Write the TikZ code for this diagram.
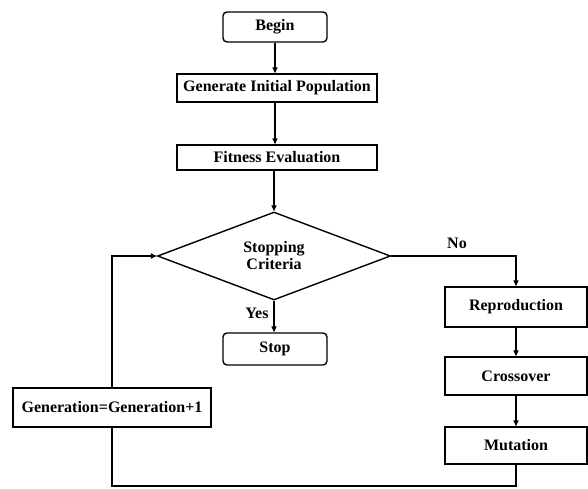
\documentclass[tikz,border=0pt]{standalone}
\usepackage{fontspec}
\setmainfont{Liberation Serif}
\usetikzlibrary{shapes.geometric,arrows.meta}
\begin{document}
\begin{tikzpicture}[x=1pt,y=-1pt,
  every node/.style={font=\fontsize{16}{18}\selectfont\bfseries, inner sep=0pt},
  box/.style={draw, line width=1.4pt},
  rbox/.style={box, rounded corners=4pt},
  flow/.style={line width=1.4pt, -{Triangle[length=6pt,width=5pt]}},
  plain/.style={line width=1.4pt}]
\useasboundingbox (0,0) rectangle (588,488);
\node[rbox, minimum width=104pt, minimum height=30pt] (begin) at (275,27) {Begin};
\node[box, minimum width=200pt, minimum height=28pt] (init) at (277,88) {Generate Initial Population};
\node[box, minimum width=200pt, minimum height=25pt] (fit) at (277,157.5) {Fitness Evaluation};
\node[box, diamond, aspect=2.65, minimum width=233pt, minimum height=88pt, align=center] (crit) at (274,256) {Stopping\\[-1pt]Criteria};
\node[rbox, minimum width=104pt, minimum height=32pt] (stop) at (275,349) {Stop};
\node[box, minimum width=198pt, minimum height=39pt] (gen) at (112,407.5) {Generation=Generation+1};
\node[box, minimum width=142pt, minimum height=40pt] (rep) at (516,307) {Reproduction};
\node[box, minimum width=142pt, minimum height=38pt] (cross) at (516,376) {Crossover};
\node[box, minimum width=142pt, minimum height=37pt] (mut) at (516,445.5) {Mutation};
\node (yes) at (257,313) {Yes};
\node (no) at (457,243) {No};
\coordinate (br) at (516,486);
\coordinate (bl) at (112,486);
\coordinate (tl) at (gen.north |- crit.west);
\draw[flow] (begin.south -| 275,0) -- (init.north -| 275,0);
\draw[flow] (init.south -| 275,0) -- (fit.north -| 275,0);
\draw[flow] (fit.south -| 274,0) -- (crit.north);
\draw[flow] (crit.south) -- (stop.north -| crit.south);
\draw[flow] (crit.east) -| (rep.north);
\draw[flow] (rep.south) -- (cross.north);
\draw[flow] (cross.south) -- (mut.north);
\draw[plain] (mut.south) -- (br) -- (bl) -- (gen.south);
\draw[flow] (gen.north) -- (tl) -- (crit.west);
\end{tikzpicture}
\end{document}
